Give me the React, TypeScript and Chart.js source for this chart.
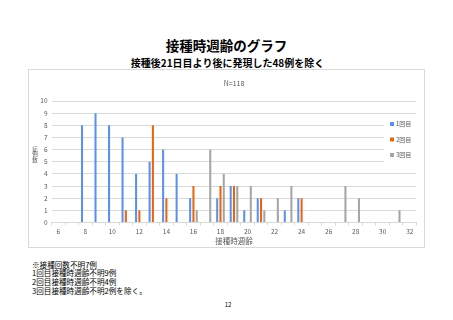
import React, { useEffect, useRef } from 'react';
import { Chart, registerables } from 'chart.js';

Chart.register(...registerables);

const weeks = ['6','7','8','9','10','11','12','13','14','15','16','17','18','19','20','21','22','23','24','25','26','27','28','29','30','31','32'];
const dose1 = [0,0,8,9,8,7,4,5,6,4,2,0,2,3,1,2,0,1,2,0,0,0,0,0,0,0,0];
const dose2 = [0,0,0,0,0,1,1,8,2,0,3,0,3,3,0,2,0,0,2,0,0,0,0,0,0,0,0];
const dose3 = [0,0,0,0,0,0,0,0,0,0,1,6,4,3,3,1,2,3,0,0,0,3,2,0,0,1,0];
const seriesLabels = ['1回目', '2回目', '3回目'];
const seriesColors = ['#5B8FF0', '#E8650F', '#A5A5A5'];
const yTicks = { min: 0, max: 10, step: 1 };

const pageTitle = '接種時週齢のグラフ';
const pageSubtitle = '接種後21日目より後に発現した48例を除く';
const chartTitle = 'N=118';
const xTitle = '接種時週齢';
const yTitle = '症例数';
const notes = ['※接種回数不明7例', '1回目接種時週齢不明9例', '2回目接種時週齢不明4例', '3回目接種時週齢不明2例を除く。'];
const pageNumber = '12';

const FONT = "'Noto Sans CJK JP', 'Noto Sans', sans-serif";
const TXT = '#595959';

const extrasPlugin = {
  id: 'extras',
  afterDraw(chart: any) {
    const { ctx, chartArea } = chart;
    const cx = (chartArea.left + chartArea.right) / 2;
    ctx.save();
    ctx.fillStyle = TXT;
    ctx.textAlign = 'center';
    ctx.textBaseline = 'middle';
    ctx.font = `7px ${FONT}`;
    ctx.fillText(chartTitle, cx, 13);
    ctx.font = `7.5px ${FONT}`;
    ctx.fillText(xTitle, cx, 171);
    ctx.font = `5.5px ${FONT}`;
    const chars = Array.from(yTitle);
    chars.forEach((c, i) => {
      ctx.fillText(c, 6, 84 + (i - 1) * 5.5);
    });
    // legend
    ctx.fillStyle = '#ffffff';
    ctx.fillRect(355, 48, 33, 47);
    ctx.font = `6px ${FONT}`;
    ctx.textAlign = 'left';
    chart.data.datasets.forEach((ds: any, i: number) => {
      const y = 54 + i * 15.5;
      ctx.fillStyle = ds.backgroundColor;
      ctx.fillRect(361, y - 2, 4, 4);
      ctx.fillStyle = TXT;
      ctx.fillText(ds.label, 367, y);
    });
    ctx.restore();
  },
};

function ChartBox() {
  const ref = useRef<HTMLCanvasElement | null>(null);
  useEffect(() => {
    if (!ref.current) return;
    const series = [dose1, dose2, dose3];
    const chart = new Chart(ref.current, {
      type: 'bar',
      data: {
        labels: weeks,
        datasets: series.map((d, i) => ({
          label: seriesLabels[i],
          data: d,
          backgroundColor: seriesColors[i],
          borderWidth: 0,
          categoryPercentage: 0.73,
          barPercentage: 0.62,
        })),
      },
      options: {
        responsive: false,
        animation: false,
        devicePixelRatio: 1,
        layout: { padding: { top: 31, right: 9.5, left: 0, bottom: 0 } },
        plugins: {
          legend: { display: false },
          title: { display: false },
          tooltip: { enabled: false },
        },
        scales: {
          x: {
            grid: { display: true, drawOnChartArea: false, drawTicks: true, tickLength: 3, color: '#d9d9d9' },
            border: { display: true, color: '#d9d9d9' },
            ticks: {
              autoSkip: false,
              maxRotation: 0,
              minRotation: 0,
              padding: 2,
              color: TXT,
              font: { size: 6.5, family: FONT },
              callback: function (this: any, v: any) {
                const l = this.getLabelForValue(v);
                return Number(l) % 2 === 0 ? l : '';
              },
            },
            afterFit(s: any) { s.height = 26.5; },
          },
          y: {
            min: yTicks.min,
            max: yTicks.max,
            ticks: { stepSize: yTicks.step, padding: 4, color: TXT, font: { size: 6.5, family: FONT } },
            grid: { color: '#d9d9d9', drawTicks: false },
            border: { display: false },
            afterFit(s: any) { s.width = 22.5; },
          },
        },
      },
      plugins: [extrasPlugin],
    } as any);
    return () => chart.destroy();
  }, []);
  return <canvas ref={ref} width={397} height={179} style={{ position: 'absolute', left: 0, top: 0, width: 397, height: 179 }} />;
}

export default function App() {
  return (
    <div style={{ position: 'fixed', left: 0, top: 0, width: 453, height: 320, background: '#fff', fontFamily: FONT, color: '#000', overflow: 'hidden' }}>
      <div style={{ position: 'absolute', left: 0, width: 453, top: 36, textAlign: 'center', fontSize: 13.5, fontWeight: 700, lineHeight: '19px' }}>
        {pageTitle}
      </div>
      <div style={{ position: 'absolute', left: 0, width: 455, top: 56, textAlign: 'center', fontSize: 10, fontWeight: 700, lineHeight: '14px' }}>
        {pageSubtitle}
      </div>
      <div style={{ position: 'absolute', left: 28, top: 69, width: 397, height: 179, boxSizing: 'border-box', border: '1px solid #d9d9d9' }}>
        <ChartBox />
      </div>
      <div style={{ position: 'absolute', left: 32, top: 260.5, fontSize: 7.6, lineHeight: '8.7px', whiteSpace: 'pre' }}>
        {notes.map((n, i) => (<div key={i}>{n}</div>))}
      </div>
      <div style={{ position: 'absolute', left: 0, width: 456, top: 301, textAlign: 'center', fontSize: 6, lineHeight: '8px' }}>
        {pageNumber}
      </div>
    </div>
  );
}
